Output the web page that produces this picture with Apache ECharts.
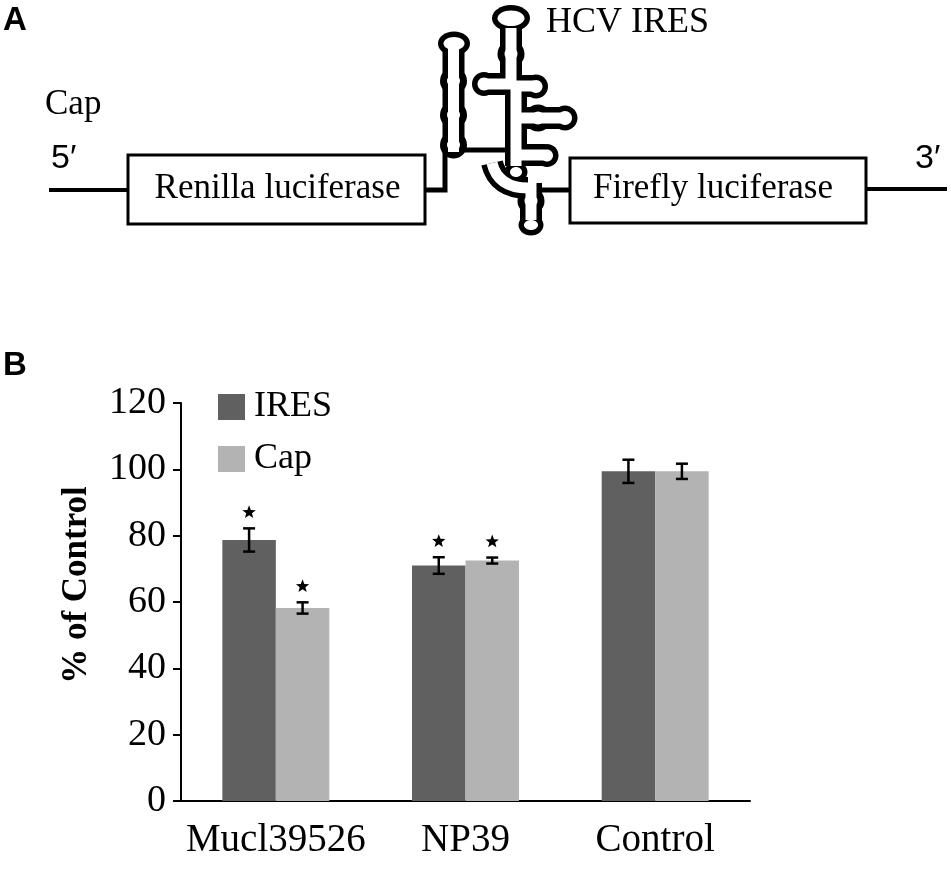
<!DOCTYPE html>
<html>
<head>
<meta charset="utf-8">
<title>HCV IRES reporter</title>
<script src="https://cdn.jsdelivr.net/npm/echarts@6/dist/echarts.min.js"></script>
<style>
html, body { margin: 0; padding: 0; background: #fff; }
#main { width: 951px; height: 873px; }
</style>
</head>
<body>
<div id="main"></div>
<script>
// ---- panel B data ----
const categories = ['Mucl39526', 'NP39', 'Control'];
const iresValues = [78.7, 71.0, 99.4];
const capValues = [58.2, 72.5, 99.4];
const iresErr = [3.5, 2.5, 3.5];
const capErr = [1.7, 0.9, 2.3];
const iresStar = [1, 1, 0];   // significance marks
const capStar = [1, 1, 0];
const yMin = 0, yMax = 120, yStep = 20;

const DARK = '#606060', LIGHT = '#b3b3b3';
const SERIF = '"Liberation Serif", "Times New Roman", serif';
const SANS = '"Liberation Sans", Arial, sans-serif';
const BAR_FRAC = 0.282;

// ---- panel A: the reporter construct, drawn as plain graphics ----
const TUBE_OUT = 22, TUBE_IN = 11;
const black = [], white = [];

function tube(points) {
    black.push({ type: 'polyline', z: 10, shape: { points: points },
        style: { stroke: '#000', lineWidth: TUBE_OUT, fill: null, lineCap: 'butt', lineJoin: 'round' } });
    white.push({ type: 'polyline', z: 11, shape: { points: points },
        style: { stroke: '#fff', lineWidth: TUBE_IN, fill: null, lineCap: 'butt', lineJoin: 'round' } });
}
function curveTube(x1, y1, cx, cy, x2, y2) {
    const sh = { x1: x1, y1: y1, cpx1: cx, cpy1: cy, x2: x2, y2: y2 };
    black.push({ type: 'bezierCurve', z: 10, shape: sh, style: { stroke: '#000', lineWidth: TUBE_OUT, fill: null } });
    white.push({ type: 'bezierCurve', z: 11, shape: sh, style: { stroke: '#fff', lineWidth: TUBE_IN, fill: null } });
}
function loop(cx, cy, rx, ry) {
    const d = (TUBE_OUT - TUBE_IN) / 2;
    black.push({ type: 'ellipse', z: 10, shape: { cx: cx, cy: cy, rx: rx, ry: ry }, style: { fill: '#000' } });
    white.push({ type: 'ellipse', z: 11, shape: { cx: cx, cy: cy, rx: rx - d, ry: ry - d }, style: { fill: '#fff' } });
}
function bump(cx, cy) {
    black.push({ type: 'circle', z: 10, shape: { cx: cx, cy: cy, r: 13.5 }, style: { fill: '#000' } });
    white.push({ type: 'circle', z: 11, shape: { cx: cx, cy: cy, r: 6.5 }, style: { fill: '#fff' } });
}
function strand(points) {
    return { type: 'polyline', z: 10, shape: { points: points },
        style: { stroke: '#000', lineWidth: 5, fill: null, lineJoin: 'miter' } };
}

// domain left of the cross
tube([[453.5, 152], [453.5, 48]]);
loop(454, 43.5, 16, 12);
bump(453.5, 81); bump(453.5, 115); bump(453.5, 145);
// cross-shaped domain
tube([[511, 28], [511, 84]]);
loop(511, 18.3, 19, 13.3);
bump(511, 54);
tube([[511, 84], [486, 84]]);
loop(484, 84, 12, 12);
tube([[511, 86], [534, 86]]);
loop(536, 86.5, 12, 12);
tube([[516, 84], [516, 166]]);
tube([[516, 118], [562, 118]]);
loop(565, 118, 12.5, 12.5);
bump(538, 118);
tube([[516, 155], [545, 155]]);
loop(547, 155.5, 11.5, 11.5);
loop(516, 172, 11.5, 10.5);
curveTube(492, 163, 498, 188, 528, 188);
// bottom hairpin
tube([[531, 183], [531, 220]]);
loop(531, 225, 12.5, 10.5);
bump(531, 201);

const strands = [
    strand([[425, 190], [445, 190], [445, 150]]),
    strand([[462, 150], [508, 150], [508, 95]]),
    strand([[538, 190], [570, 190]])
];

function box(x, y, w, h) {
    return { type: 'rect', z: 12, shape: { x: x, y: y, width: w, height: h },
        style: { fill: '#fff', stroke: '#000', lineWidth: 3 } };
}
function label(text, x, y, size, family, opts) {
    return Object.assign({ type: 'text', z: 13, x: x, y: y,
        style: Object.assign({ text: text, fontSize: size, fontFamily: family, fill: '#000',
            textAlign: 'left', textVerticalAlign: 'middle' }, opts || {}) });
}

const diagram = [
    { type: 'line', z: 9, shape: { x1: 49, y1: 190, x2: 128, y2: 190 }, style: { stroke: '#000', lineWidth: 4 } },
    { type: 'line', z: 9, shape: { x1: 866, y1: 189, x2: 947, y2: 189 }, style: { stroke: '#000', lineWidth: 4 } },
    box(128, 155, 297, 69),
    box(570, 158, 296, 65),
    label('Renilla luciferase', 277.5, 189, 35, SERIF, { textAlign: 'center' }),
    label('Firefly luciferase', 713, 189, 35, SERIF, { textAlign: 'center' }),
    label('HCV IRES', 546, 23, 36, SERIF),
    label('Cap', 45, 105, 35, SERIF),
    label('5\u2032', 51, 159, 34, SANS),
    label('3\u2032', 915, 159, 34, SANS),
    label('A', 3, 21, 33, SANS, { fontWeight: 'bold' }),
    label('B', 3, 366, 33, SANS, { fontWeight: 'bold' }),
    { type: 'text', z: 13, x: 77, y: 585, rotation: Math.PI / 2,
        style: { text: '% of Control', fontSize: 35, fontWeight: 'bold', fontFamily: SERIF, fill: '#000',
            textAlign: 'center', textVerticalAlign: 'middle' } }
];

// ---- error bars and stars through the chart scales ----
function starPoints(cx, cy, R, r) {
    const pts = [];
    for (let k = 0; k < 10; k++) {
        const a = -Math.PI / 2 + k * Math.PI / 5;
        const rad = k % 2 === 0 ? R : r;
        pts.push([cx + rad * Math.cos(a), cy + rad * Math.sin(a)]);
    }
    return pts;
}
function errRenderer(side) {
    return function (params, api) {
        const i = api.value(0), v = api.value(1), e = api.value(2), sig = api.value(3);
        const bw = api.size([1, 0])[0] * BAR_FRAC;
        const x = api.coord([i, v])[0] + side * bw / 2;
        const yTop = api.coord([i, v + e])[1];
        const yBot = api.coord([i, v - e])[1];
        const st = { stroke: '#000', lineWidth: 2.5 };
        const kids = [
            { type: 'line', shape: { x1: x, y1: yTop, x2: x, y2: yBot }, style: st },
            { type: 'line', shape: { x1: x - 6, y1: yTop, x2: x + 6, y2: yTop }, style: st },
            { type: 'line', shape: { x1: x - 6, y1: yBot, x2: x + 6, y2: yBot }, style: st }
        ];
        if (sig) {
            kids.push({ type: 'polygon', shape: { points: starPoints(x, yTop - 16, 7, 3) }, style: { fill: '#000' } });
        }
        return { type: 'group', children: kids };
    };
}

const chart = echarts.init(document.getElementById('main'));
chart.setOption({
    backgroundColor: '#fff',
    animation: false,
    grid: { left: 181, right: 201, top: 403, bottom: 72 },
    legend: {
        data: ['IRES', 'Cap'],
        orient: 'vertical',
        left: 213,
        top: 384,
        icon: 'rect',
        itemWidth: 27,
        itemHeight: 26,
        itemGap: 16,
        textStyle: { fontFamily: SERIF, fontSize: 36, lineHeight: 36, color: '#000', padding: [0, 0, 0, 4] }
    },
    xAxis: {
        type: 'category',
        data: categories,
        axisLine: { lineStyle: { color: '#000', width: 2 } },
        axisTick: { length: 8, lineStyle: { color: '#000', width: 2 } },
        axisLabel: { color: '#000', fontFamily: SERIF, fontSize: 39, margin: 20, interval: 0 }
    },
    yAxis: {
        type: 'value',
        min: yMin,
        max: yMax,
        interval: yStep,
        axisLine: { show: true, lineStyle: { color: '#000', width: 2 } },
        axisTick: { show: true, length: 8, lineStyle: { color: '#000', width: 2 } },
        axisLabel: { color: '#000', fontFamily: SERIF, fontSize: 38, margin: 15, padding: [10, 0, 0, 0] },
        splitLine: { show: false }
    },
    graphic: { elements: black.concat(strands, white, diagram) },
    series: [
        { name: 'IRES', type: 'bar', data: iresValues, barWidth: (BAR_FRAC * 100) + '%', barGap: '0%',
          itemStyle: { color: DARK } },
        { name: 'Cap', type: 'bar', data: capValues, barWidth: (BAR_FRAC * 100) + '%', barGap: '0%',
          itemStyle: { color: LIGHT } },
        { name: 'IRES err', type: 'custom', z: 5, renderItem: errRenderer(-1),
          data: categories.map((c, i) => [i, iresValues[i], iresErr[i], iresStar[i]]) },
        { name: 'Cap err', type: 'custom', z: 5, renderItem: errRenderer(1),
          data: categories.map((c, i) => [i, capValues[i], capErr[i], capStar[i]]) }
    ]
});
</script>
</body>
</html>
